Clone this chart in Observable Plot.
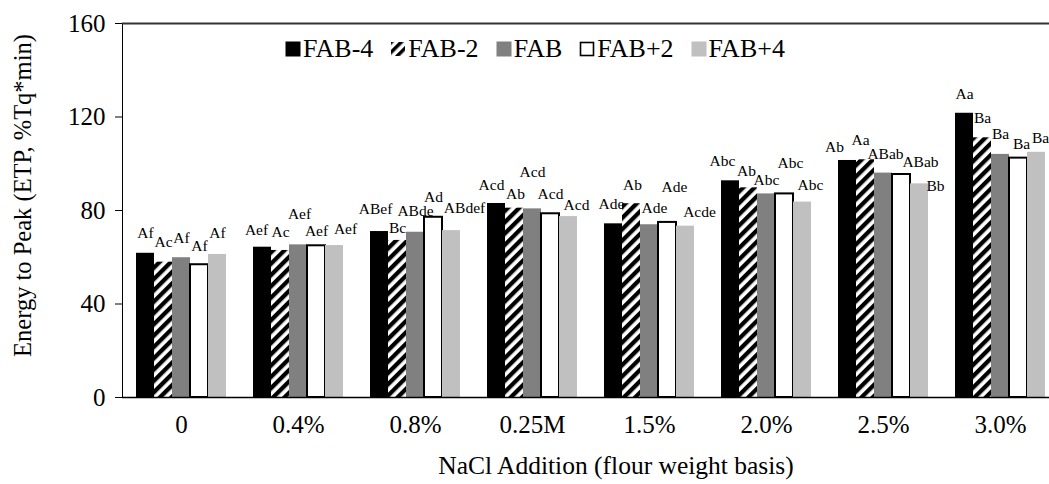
<!DOCTYPE html>
<html>
<head>
<meta charset="utf-8">
<script src="https://cdn.jsdelivr.net/npm/d3@7"></script>
<script src="https://cdn.jsdelivr.net/npm/@observablehq/plot@0.6"></script>
<style>
  body { margin: 0; background: #fff; overflow: hidden; }
  #chart { position: relative; width: 1049px; height: 484px; font-family: "Liberation Serif", "Times New Roman", Times, "DejaVu Serif", serif; }
  #chart svg, #chart svg text { font-family: "Liberation Serif", "Times New Roman", Times, "DejaVu Serif", serif !important; }
  #legend { position: absolute; left: 285px; top: 32px; display: flex; align-items: center; font-size: 26px; line-height: 34px; color: #000; }
  #legend .item { display: flex; align-items: center; margin-right: 17px; }
  #legend svg { margin-right: 2px; }
</style>
</head>
<body>
<div id="chart"><div id="legend"></div></div>
<script>
// NaCl addition levels (flour weight basis)
const additions = ["0", "0.4%", "0.8%", "0.25M", "1.5%", "2.0%", "2.5%", "3.0%"];
// Flour-absorption formulations
const formulas = ["FAB-4", "FAB-2", "FAB", "FAB+2", "FAB+4"];

// Energy to peak (ETP, %Tq*min) per formulation, one value per NaCl level
const etpFab4  = [61.7, 64.3, 71.0, 83.0, 74.3, 92.7, 101.4, 121.6];
const etpFab2  = [57.9, 62.9, 67.2, 81.0, 82.9, 89.7, 101.7, 111.1];
const etpFab   = [59.8, 65.3, 70.7, 80.7, 73.9, 87.1, 96.0, 104.0];
const etpFabP2 = [56.8, 64.9, 77.1, 78.6, 74.9, 87.1, 95.4, 102.4];
const etpFabP4 = [61.2, 65.0, 71.4, 77.4, 73.3, 83.6, 91.4, 104.9];

// Significance letters shown above each bar
const lettersFab4  = ["Af", "Aef", "ABef", "Acd", "Ade", "Abc", "Ab", "Aa"];
const lettersFab2  = ["Ac", "Ac", "Bc", "Ab", "Ab", "Ab", "Aa", "Ba"];
const lettersFab   = ["Af", "Aef", "ABde", "Acd", "Ade", "Abc", "ABab", "Ba"];
const lettersFabP2 = ["Af", "Aef", "Ad", "Acd", "Ade", "Abc", "ABab", "Ba"];
const lettersFabP4 = ["Af", "Aef", "ABdef", "Acd", "Acde", "Abc", "Bb", "Ba"];

const yTicks = [0, 40, 80, 120, 160];

// ---- layout & styling (kept apart from the data) ----
const serif = "'Liberation Serif', 'Times New Roman', Times, 'DejaVu Serif', serif";
const etpSeries = [etpFab4, etpFab2, etpFab, etpFabP2, etpFabP4];
const letterSeries = [lettersFab4, lettersFab2, lettersFab, lettersFabP2, lettersFabP4];
const seriesStyle = [
  {fill: "#000000"},
  {fill: "url(#fab-hatch)"},
  {fill: "#808080"},
  {fill: "#ffffff", stroke: "#000000", strokeWidth: 2},
  {fill: "#c0c0c0"}
];
// pixel nudges [dx, dy] of each letter label from its bar top
const labelNudge = [
  [[0,-20],[-6,-17],[-4,-23],[-5,-18],[-2,-20],[-8,-20],[-13,-13],[0,-19]],
  [[0,-20],[0,-18],[0,-12],[1,-14],[1,-19],[-2,-17],[-5,-20],[0,-20]],
  [[0,-20],[1,-31],[0,-21],[0,-37],[5,-17],[0,-14],[2,-19],[0,-20]],
  [[0,-19],[0,-15],[0,-20],[0,-20],[7,-35],[6,-31],[19,-12],[3,-14]],
  [[0,-21],[11,-17],[13,-23],[8,-12],[14,-14],[8,-17],[16,2],[4,-14]]
];
const barWidth = 18;
const n = formulas.length;

const rows = formulas.map((formula, s) =>
  additions.map((addition, g) => ({formula, addition, etp: etpSeries[s][g], letters: letterSeries[s][g], s, g}))
);

const barMarks = rows.map((data, s) =>
  Plot.barY(data, {
    x: "addition",
    y: "etp",
    insetLeft: barWidth * s,
    insetRight: barWidth * (n - 1 - s),
    ...seriesStyle[s]
  })
);

const labelMarks = rows.flatMap((data, s) =>
  data.map((d, g) =>
    Plot.text([d], {
      x: "addition",
      y: "etp",
      text: "letters",
      dx: -barWidth * (n - 1) / 2 + barWidth * s + labelNudge[s][g][0],
      dy: labelNudge[s][g][1],
      fontSize: 15.5,
      fontFamily: serif,
      fill: "#000"
    })
  )
);

const chart = Plot.plot({
  width: 1049,
  height: 484,
  marginLeft: 122,
  marginRight: 0,
  marginTop: 23,
  marginBottom: 87,
  style: {fontFamily: serif, fontSize: "25px", color: "#000", background: "#fff", overflow: "visible"},
  x: {
    domain: additions,
    range: [122, 1058],
    paddingInner: 0.2308,
    paddingOuter: 0.1154,
    tickSize: 0,
    tickPadding: 18,
    label: null
  },
  y: {
    domain: [0, 160],
    ticks: yTicks,
    tickSize: 7,
    tickPadding: 10,
    line: true,
    label: null
  },
  marks: [
    ...barMarks,
    Plot.ruleY([0], {stroke: "#000", strokeWidth: 1.6}),
    Plot.ruleY([160], {stroke: "#333", strokeWidth: 1.8}),
    ...labelMarks,
    Plot.text(["Energy to Peak (ETP, %Tq*min)"], {frameAnchor: "left", textAnchor: "middle", lineAnchor: "middle", rotate: -90, dx: -99, dy: -15, fontSize: 24.5, fontFamily: serif, fill: "#000"}),
    Plot.text(["NaCl Addition (flour weight basis)"], {frameAnchor: "bottom", textAnchor: "middle", lineAnchor: "middle", dx: 30, dy: 68, fontSize: 25.5, fontFamily: serif, fill: "#000"})
  ]
});

// diagonal hatch used by the FAB-2 bars
const ns = "http://www.w3.org/2000/svg";
const defs = document.createElementNS(ns, "defs");
defs.innerHTML = `<pattern id="fab-hatch" patternUnits="userSpaceOnUse" width="8" height="8" patternTransform="rotate(45)">
  <rect width="8" height="8" fill="#fff"/><rect width="4.3" height="8" fill="#000"/></pattern>`;
chart.insertBefore(defs, chart.firstChild);

const host = document.getElementById("chart");
host.insertBefore(chart, host.firstChild);

// legend
const legend = document.getElementById("legend");
formulas.forEach((f, s) => {
  const item = document.createElement("div");
  item.className = "item";
  const st = seriesStyle[s];
  let sw;
  if (s === 1) {
    sw = `<svg width="16" height="16"><defs><pattern id="lg-hatch" patternUnits="userSpaceOnUse" width="7" height="7" patternTransform="rotate(45)"><rect width="7" height="7" fill="#fff"/><rect width="3.5" height="7" fill="#000"/></pattern></defs><rect x="1" y="1" width="14" height="14" fill="url(#lg-hatch)"/></svg>`;
  } else if (st.stroke) {
    sw = `<svg width="16" height="16"><rect x="1.5" y="1.5" width="13" height="13" fill="#fff" stroke="#000" stroke-width="1.6"/></svg>`;
  } else {
    sw = `<svg width="16" height="16"><rect x="0.5" y="0.5" width="15" height="15" fill="${st.fill}"/></svg>`;
  }
  item.innerHTML = sw + `<span>${f}</span>`;
  legend.appendChild(item);
});
</script>
</body>
</html>
